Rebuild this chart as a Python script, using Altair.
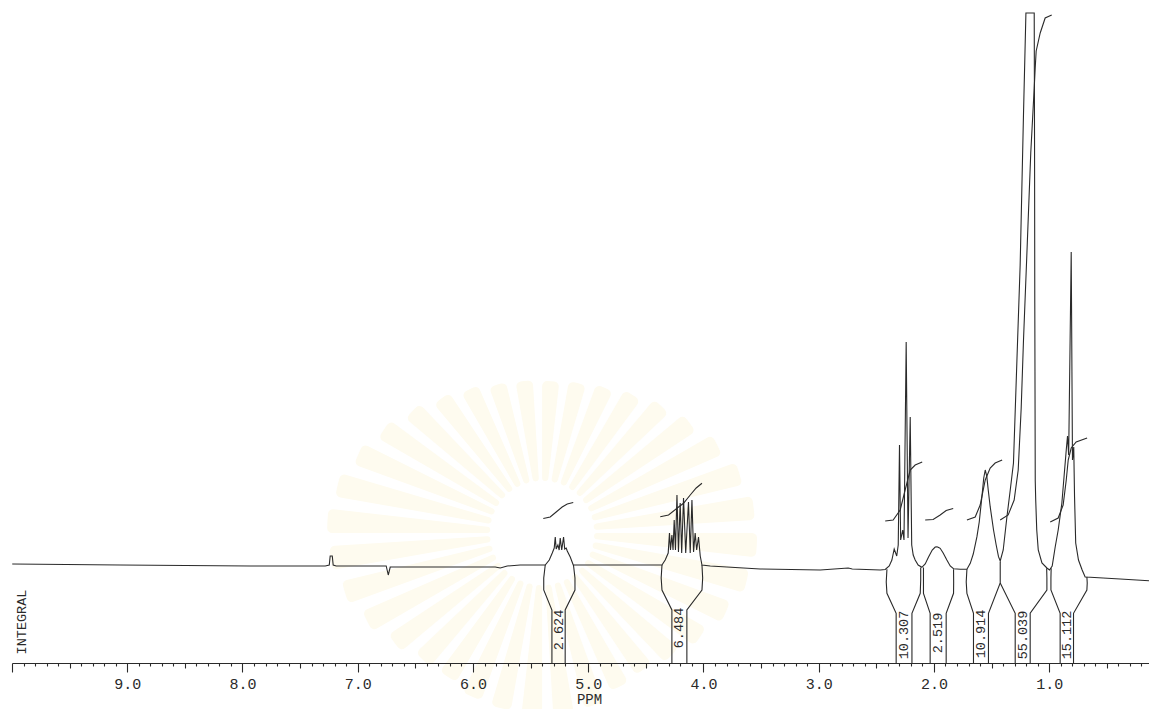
import math
import altair as alt
import pandas as pd

# ---------------- data (ppm, intensity in arbitrary plotter units) ----------------
SPEC_PPM = [9.998, 9.061, 7.933, 7.282, 7.247, 7.239, 7.221, 7.213, 7.187,
            6.753, 6.735, 6.718, 5.807, 5.763, 5.703, 5.590, 5.416,
            5.373, 5.338, 5.312, 5.295, 5.286, 5.278, 5.263, 5.252, 5.243, 5.230, 5.214, 5.204, 5.191, 5.182, 5.156, 5.130,
            5.070, 4.419, 4.360, 4.332, 4.306, 4.295, 4.286, 4.274, 4.264, 4.254, 4.243, 4.230, 4.217, 4.202, 4.189,
            4.173, 4.154, 4.130, 4.115, 4.100, 4.086, 4.072, 4.059, 4.043, 4.028, 4.013,
            3.941, 3.508, 2.987, 2.744, 2.709, 2.466, 2.423,
            2.388, 2.365, 2.345, 2.323, 2.310, 2.299, 2.289, 2.271, 2.260, 2.241, 2.225, 2.206, 2.193, 2.180, 2.163, 2.137, 2.105,
            2.076, 2.047, 2.015, 1.989, 1.974, 1.959, 1.946, 1.920, 1.888, 1.859, 1.830, 1.772, 1.714,
            1.685, 1.659, 1.627, 1.607, 1.584, 1.568, 1.555, 1.541, 1.529, 1.512, 1.483, 1.460, 1.440, 1.425,
            1.399, 1.367, 1.338, 1.310, 1.280, 1.252, 1.223, 1.202, 1.130, 1.127, 1.125, 1.121, 1.117, 1.108, 1.095, 1.063, 1.020,
            0.997, 0.974, 0.948, 0.922, 0.890, 0.870, 0.852, 0.841, 0.831, 0.809, 0.798, 0.787, 0.780, 0.770, 0.746, 0.714,
            0.688, 0.644, 0.384, 0.134]
SPEC_INT = [99, 98, 97, 97, 98, 107, 107, 98, 97,
            97, 88, 96, 96, 95, 97, 98, 98,
            98, 103, 110, 115, 126, 114, 118, 113, 125, 113, 126, 114, 115, 112, 106, 98,
            98, 98, 98, 103, 110, 130, 113, 128, 113, 143, 113, 168, 111, 160, 110,
            165, 110, 161, 110, 163, 111, 130, 113, 126, 107, 98,
            97, 94, 93, 95, 94, 93, 93.5,
            97, 103, 114, 107, 118, 218, 123, 133, 123, 321, 125, 246, 118, 108, 103, 98, 95.7,
            99, 106, 113, 116, 116.3, 115.5, 114.7, 110, 103, 97, 94.3, 93.7, 93.7,
            99.7, 109, 126.3, 141, 166.3, 185, 193, 186.3, 173, 156.3, 133, 118, 106.3, 102,
            113, 146, 173, 200, 303, 398, 549, 650, 650, 513, 360, 182, 163, 133, 113, 100, 95,
            93, 97, 116, 133, 160, 188, 213, 227, 208, 411, 203, 216, 166, 120, 103, 93,
            86, 85.7, 84, 82.3]

# integral step curves drawn above each multiplet
INTEG_SEG = ([1] * 6 + [2] * 7 + [3] * 7 + [4] * 5 + [5] * 7 + [6] * 14 + [7] * 8)
INTEG_PPM = [5.390, 5.330, 5.278, 5.226, 5.182, 5.130,
             4.375, 4.303, 4.230, 4.173, 4.115, 4.063, 4.013,
             2.423, 2.354, 2.293, 2.250, 2.206, 2.163, 2.102,
             2.076, 2.007, 1.946, 1.894, 1.833,
             1.714, 1.642, 1.599, 1.555, 1.512, 1.469, 1.408,
             1.425, 1.356, 1.304, 1.269, 1.243, 1.223, 1.190, 1.160, 1.130, 1.121, 1.113, 1.078, 1.035, 0.978,
             0.991, 0.922, 0.879, 0.852, 0.835, 0.809, 0.766, 0.671]
INTEG_INT = [144.5, 146, 151, 156, 159, 160.5,
             146.3, 148, 154.7, 159.7, 168, 175, 179.7,
             142, 143, 153, 173, 193, 198, 201,
             143, 143.5, 148, 152.5, 154.5,
             143, 146, 158, 183, 195, 200, 203,
             143, 148, 163, 193, 255, 323, 420, 510, 575, 596, 612, 630, 645, 648,
             141, 145, 158, 183, 203, 215, 221, 225]

# integral region brackets below the baseline
BRK_SEG = (["1L"] * 5 + ["1R"] * 5 + ["2L"] * 5 + ["2R"] * 5 + ["3L"] * 5 + ["3R"] * 5 +
           ["4L"] * 5 + ["4R"] * 5 + ["5L"] * 5 + ["5R"] * 4 + ["6L"] * 3 + ["6R"] * 5 +
           ["7L"] * 5 + ["7R"] * 5)
BRK_PPM = [5.373, 5.386, 5.386, 5.315, 5.315,
           5.128, 5.115, 5.115, 5.200, 5.200,
           4.360, 4.367, 4.360, 4.274, 4.274,
           4.013, 4.007, 4.013, 4.144, 4.144,
           2.408, 2.414, 2.408, 2.328, 2.328,
           2.115, 2.115, 2.119, 2.191, 2.191,
           2.091, 2.091, 2.091, 2.033, 2.033,
           1.830, 1.829, 1.830, 1.894, 1.894,
           1.714, 1.720, 1.714, 1.657, 1.657,
           1.425, 1.425, 1.527, 1.527,
           1.425, 1.295, 1.295,
           1.022, 1.020, 1.020, 1.165, 1.165,
           0.983, 0.985, 0.985, 0.905, 0.905,
           0.673, 0.670, 0.673, 0.789, 0.789]
BRK_INT = [98, 85, 73, 53, 0,
           98, 85, 73, 53, 0,
           98, 85, 73, 53, 0,
           98, 85, 73, 53, 0,
           93.7, 81, 69.7, 49.7, 0,
           95.5, 83, 69.7, 49.7, 0,
           95.5, 83, 69.7, 49.7, 0,
           93.7, 81, 69.7, 49.7, 0,
           93.7, 81, 69.7, 49.7, 0,
           101.3, 80, 49.7, 0,
           80, 49.7, 0,
           94.7, 85, 73, 49.7, 0,
           94.7, 85, 73, 49.7, 0,
           86.3, 80, 73, 49.7, 0]

# integral values printed inside the brackets
AREA_TEXT = ["2.624", "6.484", "10.307", "2.519", "10.914", "55.039", "15.112"]
AREA_PPM = [5.257, 4.209, 2.260, 1.963, 1.592, 1.230, 0.847]
AREA_INT = [33, 35, 28, 30, 29, 28, 28]

SIDE_TEXT = ["INTEGRAL"]
SIDE_PPM = [9.911]
SIDE_INT = [41]

TICK_VALUES = [round(0.2 + 0.1 * i, 1) for i in range(99)]

# faint watermark behind the spectrum (decorative sunburst): 36 rays, 10 degrees apart
RAY_LEN = [152, 154, 158, 165, 174, 184, 196, 206, 213, 215, 210, 200, 189, 178, 170, 172, 180, 182,
           182, 180, 178, 172, 174, 184, 196, 206, 213, 215, 210, 200, 189, 178, 168, 161, 155, 153]
RAY_SLOT_DEG = 10
RAY_FILL_DEG = 6.5

# ---------------- frames ----------------
spec_df = pd.DataFrame({"ppm": SPEC_PPM, "I": SPEC_INT})
spec_df["k"] = range(len(spec_df))
integ_df = pd.DataFrame({"seg": INTEG_SEG, "ppm": INTEG_PPM, "I": INTEG_INT})
integ_df["k"] = range(len(integ_df))
brk_df = pd.DataFrame({"seg": BRK_SEG, "ppm": BRK_PPM, "I": BRK_INT})
brk_df["k"] = range(len(brk_df))
area_df = pd.DataFrame({"t": AREA_TEXT, "ppm": AREA_PPM, "I": AREA_INT})
side_df = pd.DataFrame({"t": SIDE_TEXT, "ppm": SIDE_PPM, "I": SIDE_INT})
ray_df = pd.DataFrame({
    "r": RAY_LEN,
    "t0": [math.radians(i * RAY_SLOT_DEG) for i in range(len(RAY_LEN))],
    "t1": [math.radians(i * RAY_SLOT_DEG + RAY_FILL_DEG) for i in range(len(RAY_LEN))],
})

INK = "#2a2a2a"
FONT = "Liberation Mono"

xs = alt.Scale(domain=[10.0, 0.134], nice=False, zero=False)
ys = alt.Scale(domain=[0, 655], nice=False, zero=False)

is_int = "abs(datum.value - round(datum.value)) < 0.001"
is_half = "abs(datum.value * 2 - round(datum.value * 2)) < 0.001"
xaxis = alt.Axis(
    values=TICK_VALUES,
    labelExpr=f"{is_int} && datum.value < 9.5 ? format(datum.value, '.1f') : ''",
    tickSize={"condition": [{"test": is_int, "value": 9}, {"test": is_half, "value": 5}], "value": 3},
    tickColor=INK, tickWidth=1.1, domainColor=INK, domainWidth=1.2,
    labelFont=FONT, labelFontSize=15, labelColor=INK, labelPadding=4,
    labelFlush=False, labelOverlap=False, labelBound=False, grid=False,
    title="PPM", titleFont=FONT, titleFontSize=14, titleFontWeight="normal", titleColor=INK,
    titleX=577, titleY=29, titleAlign="center", titleBaseline="top", zindex=1,
)


def X(field="ppm"):
    return alt.X(f"{field}:Q", scale=xs, axis=xaxis)


def Y(field="I"):
    return alt.Y(f"{field}:Q", scale=ys, axis=None)


watermark = alt.Chart(ray_df).mark_arc(innerRadius=52, stroke=None, cornerRadius=5, color="#fefbef").encode(
    x=alt.XDatum(5.40, type="quantitative", scale=xs, axis=xaxis),
    y=alt.YDatum(130, type="quantitative", scale=ys, axis=None),
    theta=alt.Theta("t0:Q", scale=None, stack=None),
    theta2=alt.Theta2("t1:Q"),
    radius=alt.Radius("r:Q", scale=None, stack=None),
)

spectrum = alt.Chart(spec_df).mark_line(color=INK, strokeWidth=1.1, clip=True).encode(
    x=X(), y=Y(), order=alt.Order("k:Q")
)
integrals = alt.Chart(integ_df).mark_line(color=INK, strokeWidth=1.1).encode(
    x=X(), y=Y(), detail="seg:N", order=alt.Order("k:Q")
)
brackets = alt.Chart(brk_df).mark_line(color=INK, strokeWidth=1.1).encode(
    x=X(), y=Y(), detail="seg:N", order=alt.Order("k:Q")
)
areas = alt.Chart(area_df).mark_text(angle=270, font=FONT, fontSize=13.5, color=INK).encode(
    x=X(), y=Y(), text="t:N"
)
side = alt.Chart(side_df).mark_text(angle=270, font=FONT, fontSize=13.5, color=INK).encode(
    x=X(), y=Y(), text="t:N"
)

chart = alt.layer(watermark, spectrum, integrals, brackets, areas, side).properties(
    width=1137, height=655,
    autosize=alt.AutoSizeParams(type="none"),
    padding={"left": 4, "top": 0, "right": 0, "bottom": 46},
    background="white",
).configure_view(stroke=None)

chart.save("out.html", embed_options={"renderer": "svg", "actions": False})
